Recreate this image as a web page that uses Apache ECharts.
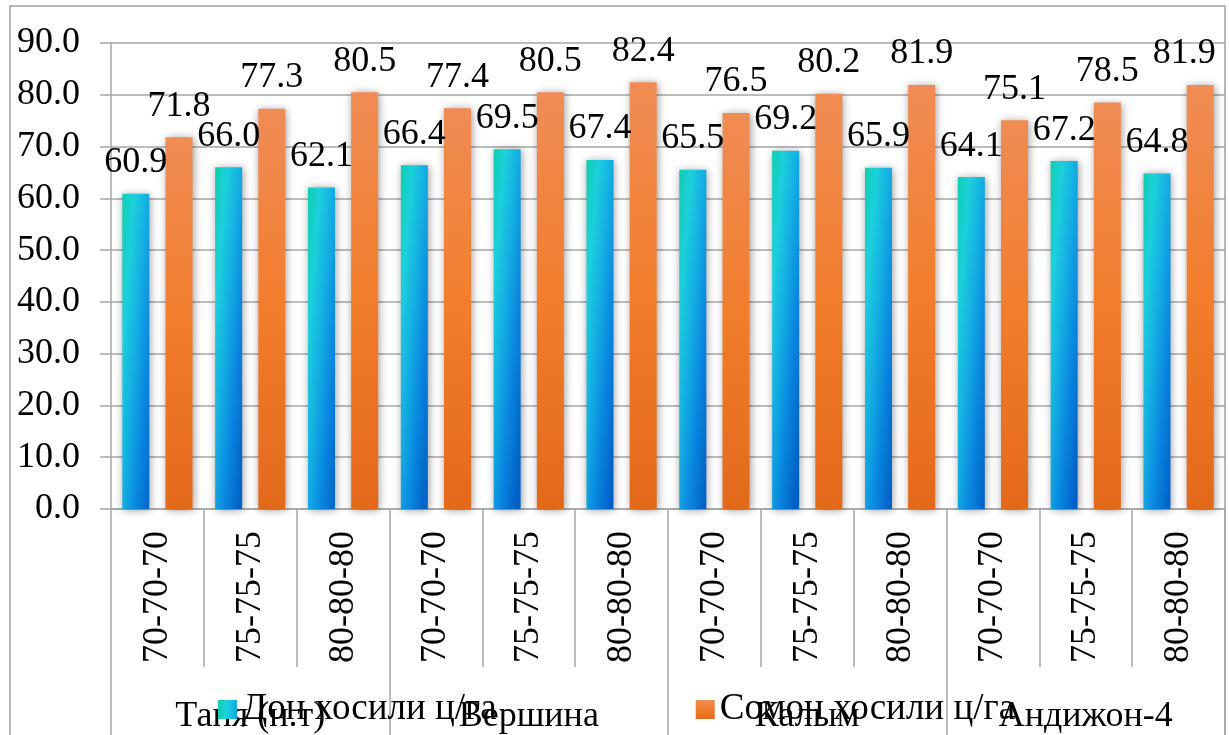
<!DOCTYPE html>
<html>
<head>
<meta charset="utf-8">
<script src="https://cdn.jsdelivr.net/npm/echarts@6/dist/echarts.min.js"></script>
<style>
html,body{margin:0;padding:0;background:#fff;}
#c{width:1229px;height:735px;}
</style>
</head>
<body>
<div id="c"></div>
<script>
const categories = ['70-70-70','75-75-75','80-80-80','70-70-70','75-75-75','80-80-80','70-70-70','75-75-75','80-80-80','70-70-70','75-75-75','80-80-80'];
const groups = ['Таня (н.т)','Вершина','Калым','Андижон-4'];
const seriesNames = ['Дон хосили ц/га','Сомон хосили ц/га'];
const grainYield = [60.9, 66.0, 62.1, 66.4, 69.5, 67.4, 65.5, 69.2, 65.9, 64.1, 67.2, 64.8];
const strawYield = [71.8, 77.3, 80.5, 77.4, 80.5, 82.4, 76.5, 80.2, 81.9, 75.1, 78.5, 81.9];
const yTicks = {min: 0, max: 90, interval: 10};

const FONT = 'Liberation Serif';
const gridColor = '#a6a6a6';

const blueGrad = new echarts.graphic.LinearGradient(0, 0, 1.99, 0.0134, [
  {offset: 0, color: '#0ecfae'},
  {offset: 0.22, color: '#1dd0dc'},
  {offset: 0.45, color: '#14b0e2'},
  {offset: 0.7, color: '#0a88e0'},
  {offset: 1, color: '#0060c6'}
]);
const orangeGrad = new echarts.graphic.LinearGradient(0, 0, 0, 1, [
  {offset: 0, color: '#f08c55'},
  {offset: 0.5, color: '#f27d2b'},
  {offset: 1, color: '#e3691a'}
]);

const labelCfg = {
  show: true, position: 'top', distance: 13,
  fontFamily: FONT, fontSize: 36, color: '#000',
  formatter: p => p.value.toFixed(1)
};
const shadow = {shadowColor: 'rgba(0,0,0,0.4)', shadowBlur: 8, shadowOffsetX: 1, shadowOffsetY: 1};

const lastIdx = strawYield.length - 1;
const strawData = strawYield.map((v, i) => i === lastIdx ? {value: v, label: {offset: [-16, 0]}} : v);

const chart = echarts.init(document.getElementById('c'), null, {renderer: 'canvas'});
chart.setOption({
  animation: false,
  backgroundColor: '#fff',
  textStyle: {fontFamily: FONT},
  graphic: [{
    type: 'rect', z: -10, silent: true,
    shape: {x: 10, y: 6, width: 1215, height: 760},
    style: {fill: 'none', stroke: '#a0a0a0', lineWidth: 1.5}
  }],
  legend: {
    data: seriesNames,
    left: 213, top: 686,
    itemWidth: 19, itemHeight: 19, itemGap: 199,
    textStyle: {fontFamily: FONT, fontSize: 37, color: '#000'},
    icon: 'rect'
  },
  grid: {left: 111, right: 4, top: 43, bottom: 225, containLabel: false},
  xAxis: [{
    type: 'category', data: categories, position: 'bottom',
    axisLine: {show: true, lineStyle: {color: gridColor, width: 1.5}},
    axisTick: {show: true, interval: 0, length: 158, lineStyle: {color: gridColor, width: 1.5}},
    axisLabel: {interval: 0, rotate: 90, margin: 22, fontFamily: FONT, fontSize: 36, color: '#000'}
  }, {
    type: 'category', data: groups, position: 'bottom', offset: 0,
    axisLine: {show: false},
    axisTick: {show: true, interval: 0, length: 240, lineStyle: {color: gridColor, width: 1.5}},
    axisLabel: {interval: 0, margin: 190, fontFamily: FONT, fontSize: 36, color: '#000'}
  }],
  yAxis: {
    type: 'value', min: yTicks.min, max: yTicks.max, interval: yTicks.interval,
    axisLine: {show: true, lineStyle: {color: gridColor, width: 1.5}},
    axisTick: {show: true, length: 11, lineStyle: {color: gridColor, width: 1.5}},
    splitLine: {show: true, lineStyle: {color: gridColor, width: 1.5}},
    axisLabel: {margin: 31, fontFamily: FONT, fontSize: 36, color: '#000', formatter: v => v.toFixed(1)}
  },
  series: [{
    name: seriesNames[0], type: 'bar', data: grainYield,
    barWidth: 27, barGap: '60%',
    itemStyle: Object.assign({color: blueGrad}, shadow),
    label: labelCfg
  }, {
    name: seriesNames[1], type: 'bar', data: strawData,
    barWidth: 27, barGap: '60%',
    itemStyle: Object.assign({color: orangeGrad}, shadow),
    label: labelCfg
  }]
});
</script>
</body>
</html>
